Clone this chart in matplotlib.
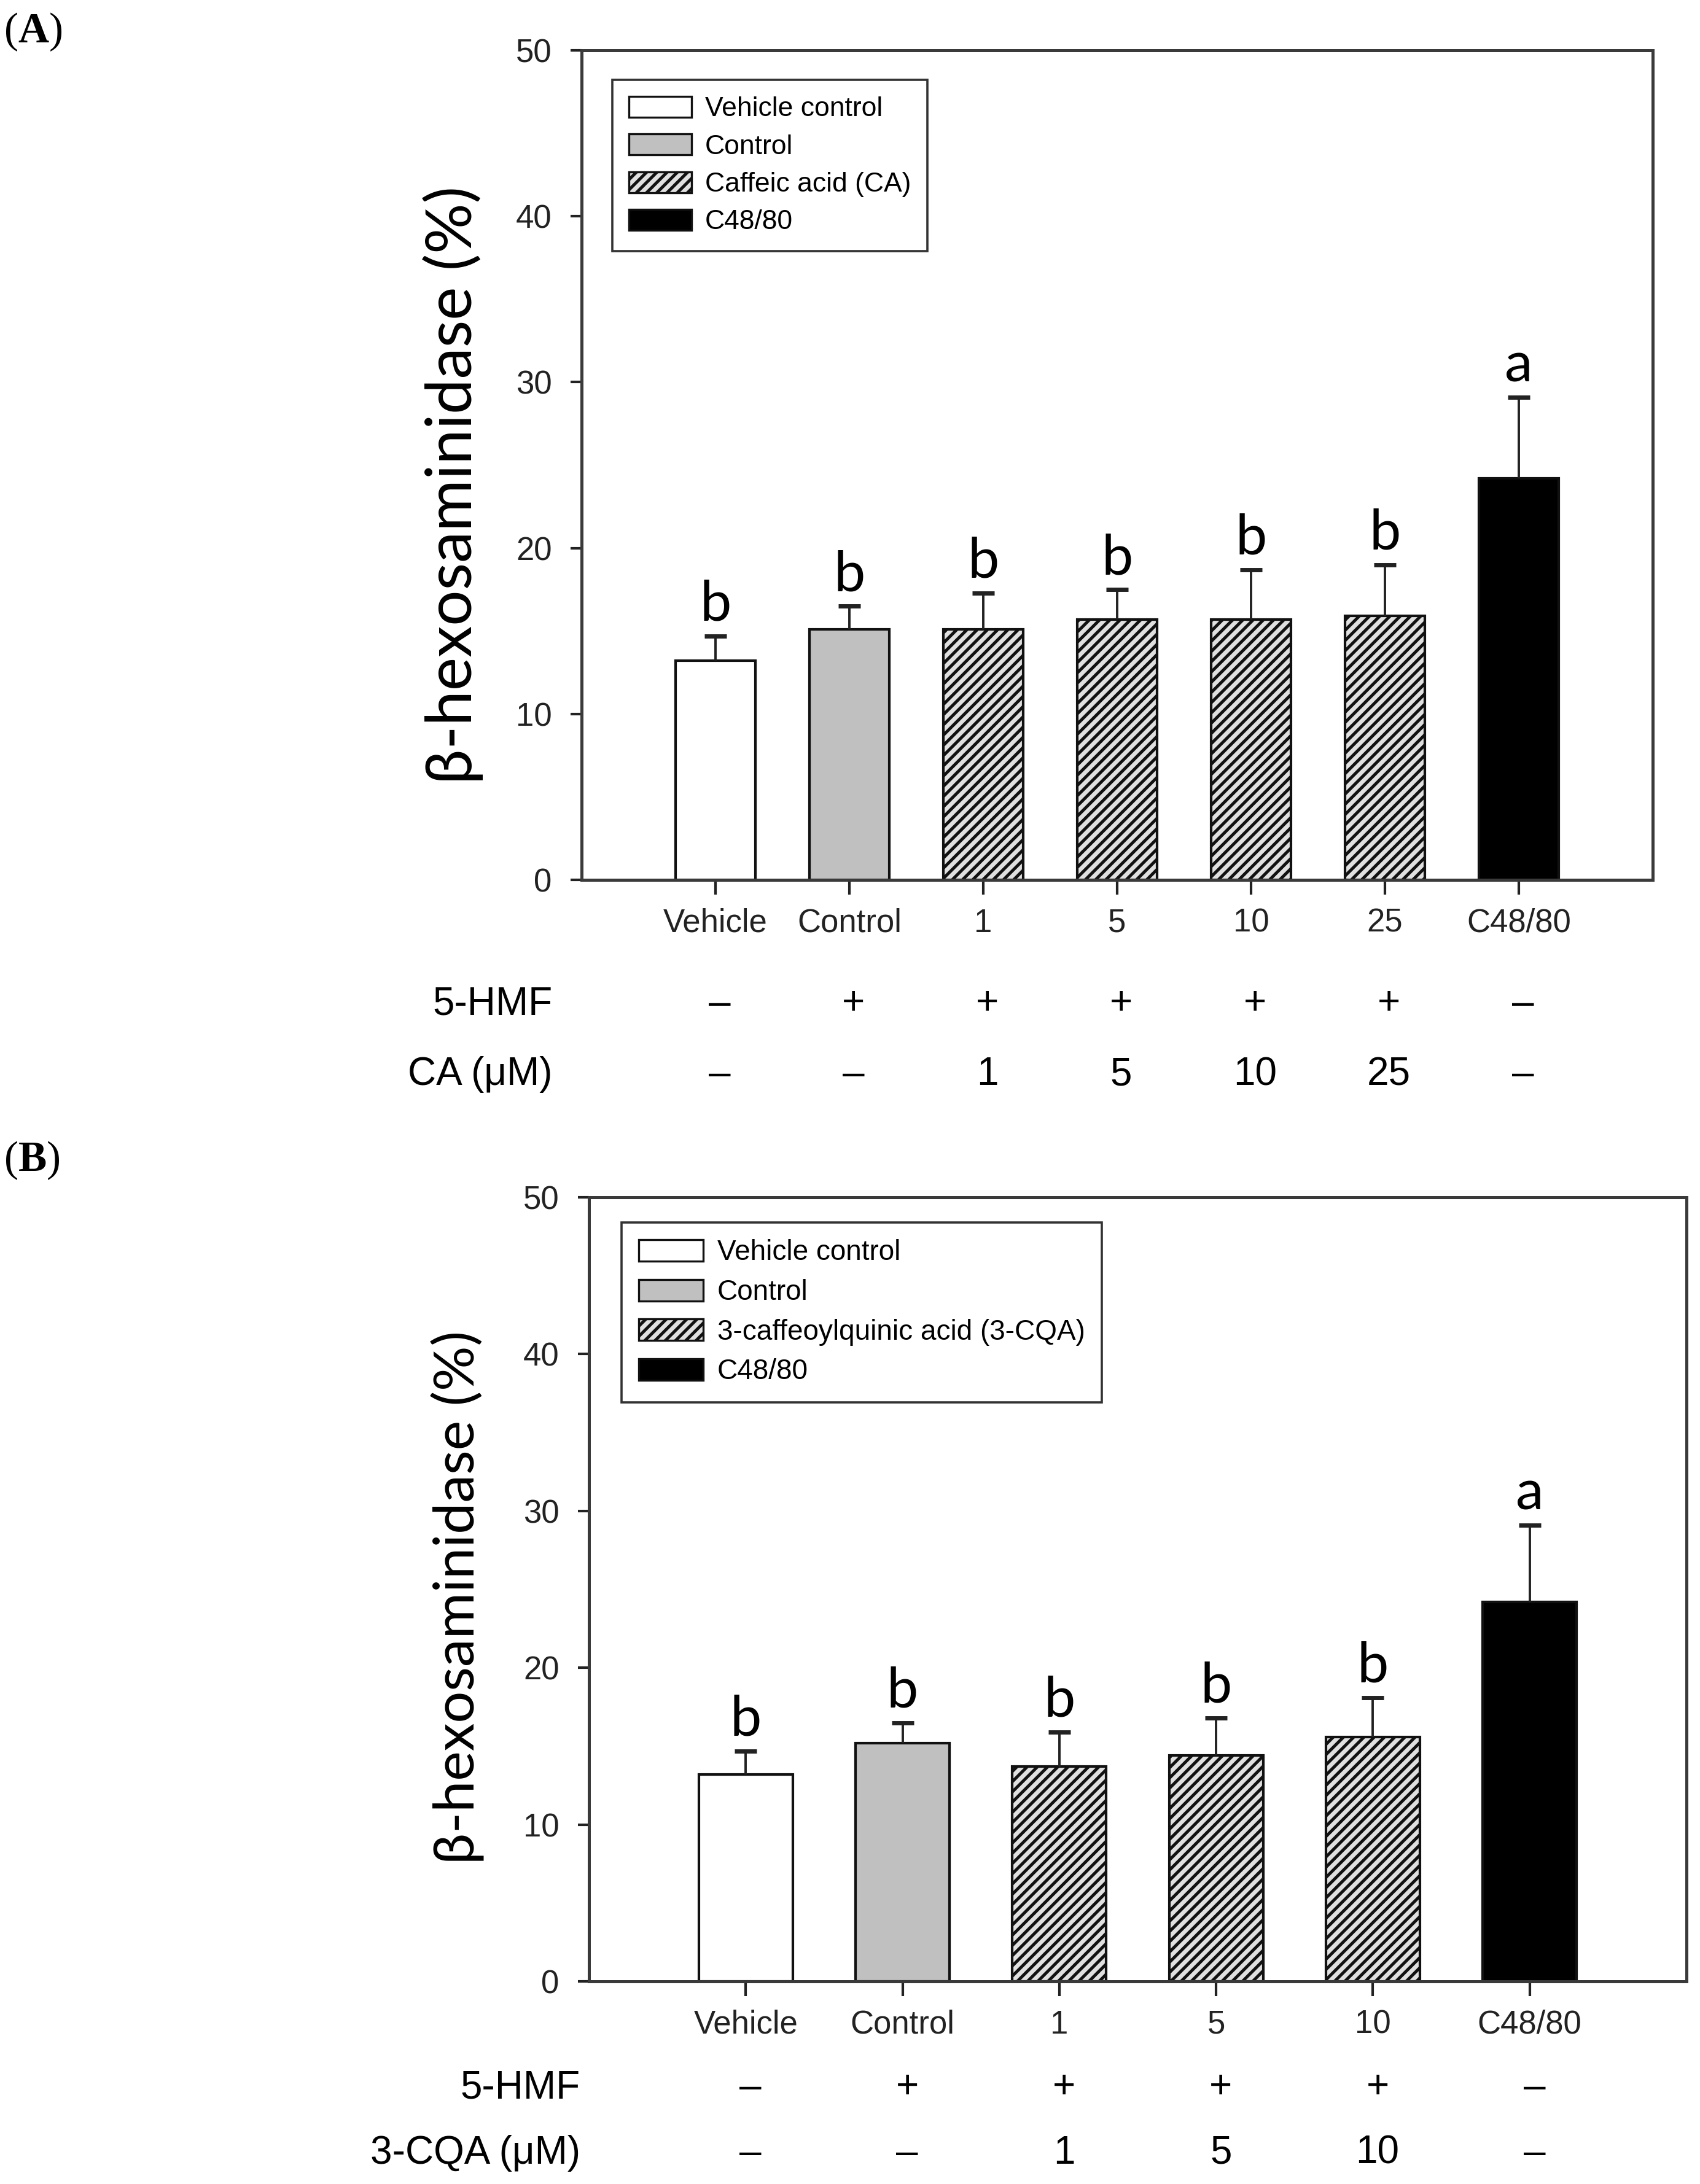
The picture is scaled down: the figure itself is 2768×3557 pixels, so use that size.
import matplotlib
matplotlib.use('Agg')
import matplotlib.pyplot as plt
from matplotlib.patches import Patch
from matplotlib.transforms import blended_transform_factory

plt.rcParams['font.family'] = ['Liberation Sans', 'DejaVu Sans']
plt.rcParams['hatch.linewidth'] = 1.8
# panel tags "(A)"/"(B)" are Times-like with a bold letter
plt.rcParams['mathtext.fontset'] = 'custom'
plt.rcParams['mathtext.rm'] = 'Liberation Serif'
plt.rcParams['mathtext.bf'] = 'Liberation Serif:bold'

# panel A data
cats_a = ['Vehicle', 'Control', '1', '5', '10', '25', 'C48/80']
mean_a = [13.2, 15.1, 15.1, 15.7, 15.7, 15.9, 24.2]
err_a = [1.5, 1.4, 2.2, 1.8, 3.0, 3.1, 4.9]
letters_a = ['b', 'b', 'b', 'b', 'b', 'b', 'a']
kind_a = ['vehicle', 'control', 'drug', 'drug', 'drug', 'drug', 'c4880']
hmf_a = ['–', '+', '+', '+', '+', '+', '–']
dose_a = ['–', '–', '1', '5', '10', '25', '–']
legend_a = ['Vehicle control', 'Control', 'Caffeic acid (CA)', 'C48/80']

# panel B data
cats_b = ['Vehicle', 'Control', '1', '5', '10', 'C48/80']
mean_b = [13.2, 15.2, 13.7, 14.4, 15.6, 24.2]
err_b = [1.5, 1.3, 2.2, 2.4, 2.5, 4.9]
letters_b = ['b', 'b', 'b', 'b', 'b', 'a']
kind_b = ['vehicle', 'control', 'drug', 'drug', 'drug', 'c4880']
hmf_b = ['–', '+', '+', '+', '+', '–']
dose_b = ['–', '–', '1', '5', '10', '–']
legend_b = ['Vehicle control', 'Control', '3-caffeoylquinic acid (3-CQA)', 'C48/80']

# look of each bar type
styles = {
    'vehicle': dict(facecolor='white', hatch=None),
    'control': dict(facecolor='#c0c0c0', hatch=None),
    'drug': dict(facecolor='#e0e0e0', hatch='////'),
    'c4880': dict(facecolor='black', hatch=None),
}
kind_order = ['vehicle', 'control', 'drug', 'c4880']

W, H = 2768, 3557
fig = plt.figure(figsize=(W / 200, H / 200), dpi=200)


def draw_panel(rect, cats, means, errs, letters, kinds, leg_labels, leg_anchor,
               leg_size, ylab_xy, ylab_size):
    ax = fig.add_axes(rect)
    x = list(range(len(cats)))
    for xi, m, k in zip(x, means, kinds):
        st = styles[k]
        ax.bar(xi, m, width=0.6, color=st['facecolor'], hatch=st['hatch'],
               edgecolor='#111111', linewidth=1.5, zorder=2)
    eb = ax.errorbar(x, means, yerr=[[0] * len(x), errs], fmt='none', ecolor='#222222',
                     elinewidth=1.4, capsize=6.5, capthick=2.5, zorder=3)
    eb[1][0].set_visible(False)  # no cap at the bar top
    for xi, m, e, t in zip(x, means, errs, letters):
        ax.annotate(t, (xi, m + e), xytext=(0, 9), textcoords='offset points',
                    ha='center', va='baseline', fontsize=33, family='Lato')

    ax.set_xlim(-1, len(cats))
    ax.set_ylim(0, 50)
    ax.set_yticks([0, 10, 20, 30, 40, 50])
    ax.set_xticks(x)
    ax.set_xticklabels(cats)
    ax.tick_params(axis='y', direction='out', length=6.5, width=1.5,
                   labelsize=19, pad=11, colors='#222222')
    ax.tick_params(axis='x', direction='out', length=8.5, width=1.5,
                   labelsize=19, pad=8, colors='#222222')
    for s in ax.spines.values():
        s.set_color('#3a3a3a')
        s.set_linewidth(1.8)

    ax.set_ylabel('β-hexosaminidase (%)', family='Lato', fontsize=ylab_size)
    ax.yaxis.set_label_coords(*ylab_xy)

    handles = [Patch(facecolor=styles[k]['facecolor'], hatch=styles[k]['hatch'],
                     edgecolor='#111111', linewidth=1.2) for k in kind_order]
    leg = ax.legend(handles, leg_labels, loc='upper left', bbox_to_anchor=leg_anchor,
                    borderaxespad=0, fontsize=leg_size, fancybox=False, frameon=True,
                    handlelength=2.3, handleheight=0.8, handletextpad=0.5,
                    labelspacing=0.45, borderpad=0.6)
    leg.get_frame().set_edgecolor('black')
    leg.get_frame().set_linewidth(1.3)
    return ax


def draw_rows(ax, rows, row_labels, row_ys, label_x):
    tr = blended_transform_factory(ax.transData, fig.transFigure)
    for vals, lab, yy in zip(rows, row_labels, row_ys):
        fig.text(label_x, yy, lab, ha='right', va='center', fontsize=23)
        for xi, v in enumerate(vals):
            ax.text(xi + 0.03, yy, v, transform=tr, ha='center', va='center',
                    fontsize=23)


ax_a = draw_panel([947 / W, 1 - 1433 / H, 1744 / W, 1351 / H], cats_a, mean_a, err_a,
                  letters_a, kind_a, legend_a, (0.0287, 0.9645), 16,
                  (-0.092, 0.476), 37)
draw_rows(ax_a, [hmf_a, dose_a], ['5-HMF', 'CA (μM)'],
          [1 - 1635 / H, 1 - 1750 / H], 900 / W)

ax_b = draw_panel([959 / W, 1 - 3227 / H, 1787 / W, 1277 / H], cats_b, mean_b, err_b,
                  letters_b, kind_b, legend_b, (0.0297, 0.9679), 16.5,
                  (-0.095, 0.49), 33)
draw_rows(ax_b, [hmf_b, dose_b], ['5-HMF', '3-CQA (μM)'],
          [1 - 3400 / H, 1 - 3507 / H], 945 / W)

for tag, yy in [('A', 1 - 52 / H), ('B', 1 - 1890 / H)]:
    fig.text(0.002, yy, r'$\mathrm{(}\mathbf{' + tag + r'}\mathrm{)}$',
             fontsize=25, va='center')

fig.savefig('out.png', dpi=200, facecolor='white')
